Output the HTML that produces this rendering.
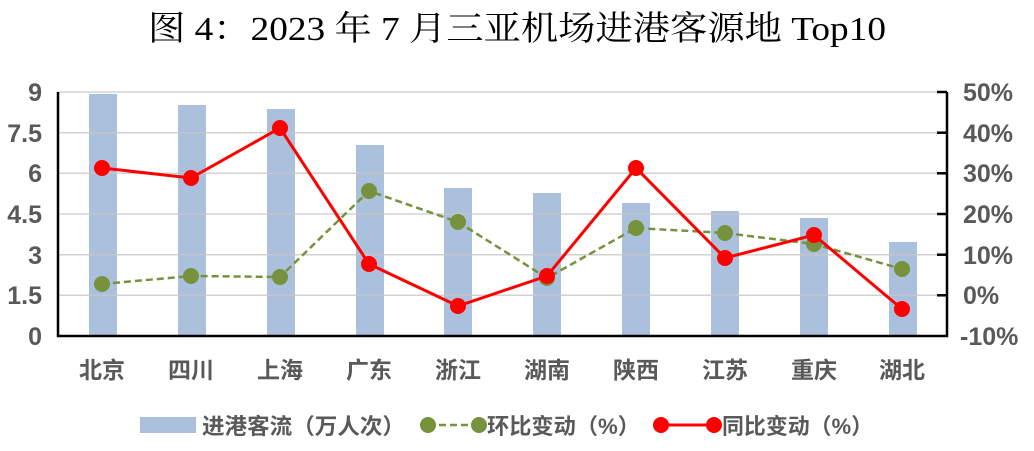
<!DOCTYPE html>
<html><head><meta charset="utf-8"><style>
body{margin:0;background:#fff;}
svg text{font-family:"Liberation Sans","Noto Sans CJK SC",sans-serif;}
</style></head><body>
<svg width="1034" height="446" viewBox="0 0 1034 446" xmlns="http://www.w3.org/2000/svg">
<text x="517" y="40" text-anchor="middle" font-size="34" fill="#000" textLength="738" lengthAdjust="spacingAndGlyphs" style="font-family:'Liberation Serif','Noto Serif CJK SC',serif">图 4：2023 年 7 月三亚机场进港客源地 Top10</text>
<g fill="#aac0dd">
<rect x="89" y="94" width="28" height="242"/>
<rect x="178" y="105" width="28" height="231"/>
<rect x="267" y="109" width="28" height="227"/>
<rect x="356" y="145" width="28" height="191"/>
<rect x="444" y="188" width="28" height="148"/>
<rect x="533" y="193" width="28" height="143"/>
<rect x="622" y="203" width="28" height="133"/>
<rect x="711" y="211" width="28" height="125"/>
<rect x="800" y="218" width="28" height="118"/>
<rect x="889" y="242" width="28" height="94"/>
</g>
<g stroke="#c8c8c8" stroke-width="1.5" opacity="0.8">
<line x1="58" x2="947" y1="92" y2="92"/><line x1="58" x2="947" y1="132.7" y2="132.7"/>
<line x1="58" x2="947" y1="173.3" y2="173.3"/><line x1="58" x2="947" y1="214" y2="214"/>
<line x1="58" x2="947" y1="254.7" y2="254.7"/><line x1="58" x2="947" y1="295.3" y2="295.3"/>
</g>
<g stroke="#000" stroke-width="2.5" fill="none">
<polyline points="58,92 58,336 947,336 947,92"/>
<line x1="937" x2="947" y1="92" y2="92"/><line x1="937" x2="947" y1="132.7" y2="132.7"/>
<line x1="937" x2="947" y1="173.3" y2="173.3"/><line x1="937" x2="947" y1="214" y2="214"/>
<line x1="937" x2="947" y1="254.7" y2="254.7"/><line x1="937" x2="947" y1="295.3" y2="295.3"/>
</g>
<polyline fill="none" stroke="#76923c" stroke-width="2.5" stroke-dasharray="7,4" points="102,284 191,276 280,277 369,191 458,222 547,278 636,228 725,233 814,244 902,269"/>
<g fill="#76923c">
<circle cx="102" cy="284" r="8"/><circle cx="191" cy="276" r="8"/><circle cx="280" cy="277" r="8"/><circle cx="369" cy="191" r="8"/><circle cx="458" cy="222" r="8"/><circle cx="547" cy="278" r="8"/><circle cx="636" cy="228" r="8"/><circle cx="725" cy="233" r="8"/><circle cx="814" cy="244" r="8"/><circle cx="902" cy="269" r="8"/>
</g>
<polyline fill="none" stroke="#ff0000" stroke-width="3" points="102,168 191,178 280,128 369,264 458,306 547,276 636,168 725,258 814,235 902,309"/>
<g fill="#ff0000">
<circle cx="102" cy="168" r="8"/><circle cx="191" cy="178" r="8"/><circle cx="280" cy="128" r="8"/><circle cx="369" cy="264" r="8"/><circle cx="458" cy="306" r="8"/><circle cx="547" cy="276" r="8"/><circle cx="636" cy="168" r="8"/><circle cx="725" cy="258" r="8"/><circle cx="814" cy="235" r="8"/><circle cx="902" cy="309" r="8"/>
</g>
<g font-size="25" font-weight="bold" fill="#595959" text-anchor="end">
<text x="42" y="101">9</text><text x="42" y="142">7.5</text><text x="42" y="182">6</text><text x="42" y="223">4.5</text><text x="42" y="264">3</text><text x="42" y="304">1.5</text><text x="42" y="345">0</text>
</g>
<g font-size="25" font-weight="bold" fill="#595959">
<text x="963" y="101">50%</text><text x="963" y="142">40%</text><text x="963" y="182">30%</text><text x="963" y="223">20%</text><text x="963" y="264">10%</text><text x="963" y="304">0%</text><text x="960" y="345">-10%</text>
</g>
<g font-size="23" font-weight="bold" fill="#595959" text-anchor="middle">
<text x="102" y="378">北京</text><text x="191" y="378">四川</text><text x="280" y="378">上海</text><text x="369" y="378">广东</text><text x="458" y="378">浙江</text><text x="547" y="378">湖南</text><text x="636" y="378">陕西</text><text x="725" y="378">江苏</text><text x="814" y="378">重庆</text><text x="902" y="378">湖北</text>
</g>
<rect x="140" y="417" width="56" height="16" fill="#aac0dd"/>
<g font-size="22" font-weight="bold" fill="#595959">
<text x="202" y="434" textLength="203" lengthAdjust="spacingAndGlyphs">进港客流（万人次）</text>
<text x="487" y="434" textLength="153" lengthAdjust="spacingAndGlyphs">环比变动（%）</text>
<text x="722" y="434" textLength="151" lengthAdjust="spacingAndGlyphs">同比变动（%）</text>
</g>
<line x1="428" x2="479" y1="425" y2="425" stroke="#76923c" stroke-width="2.5" stroke-dasharray="7,4"/>
<circle cx="428" cy="425" r="8" fill="#76923c"/><circle cx="479" cy="425" r="8" fill="#76923c"/>
<line x1="661" x2="714" y1="425" y2="425" stroke="#ff0000" stroke-width="3"/>
<circle cx="661" cy="425" r="8" fill="#ff0000"/><circle cx="714" cy="425" r="8" fill="#ff0000"/>
</svg>
</body></html>
